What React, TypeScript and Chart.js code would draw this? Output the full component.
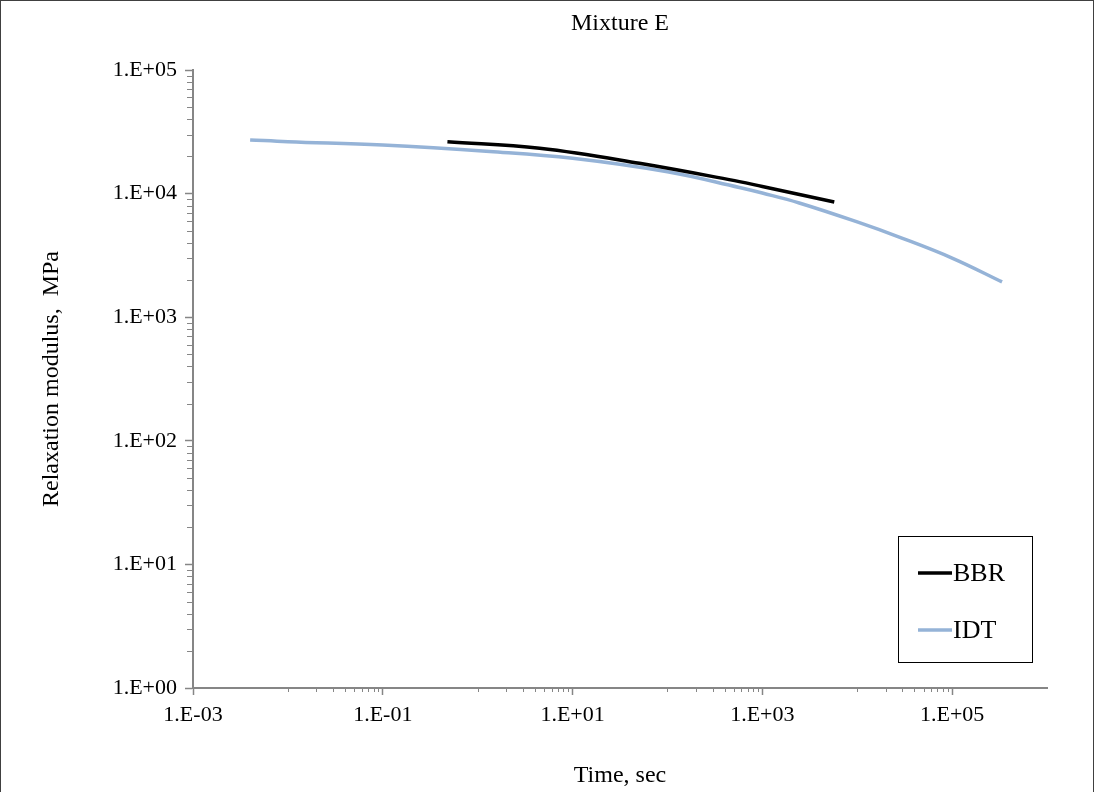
import React, { useEffect, useRef } from 'react';
import { Chart, registerables } from 'chart.js';

Chart.register(...registerables);

const chartTitle = 'Mixture E';
const xAxisTitle = 'Time, sec';
const yAxisTitle = 'Relaxation modulus,  MPa';

const xTickValues = [1e-3, 1e-1, 1e1, 1e3, 1e5];
const xTickLabels = ['1.E-03', '1.E-01', '1.E+01', '1.E+03', '1.E+05'];
const yTickValues = [1, 10, 100, 1e3, 1e4, 1e5];
const yTickLabels = ['1.E+00', '1.E+01', '1.E+02', '1.E+03', '1.E+04', '1.E+05'];

const seriesLabels = ['BBR', 'IDT'];
const seriesColors = ['#000000', '#95B3D7'];

const bbrTime = [0.48, 4.5, 50.7, 573, 1000, 5730];
const bbrModulus = [26300, 23300, 17600, 12500, 11400, 8550];

const idtTime = [0.004, 0.01, 0.1, 1.34, 10, 100, 573, 1000, 2450, 10000, 27700, 100000, 336000];
const idtModulus = [27200, 26300, 24700, 21900, 19300, 15000, 11200, 10100, 8400, 5900, 4450, 3010, 1930];

const FONT = "'Liberation Serif', 'Times New Roman', serif";
const AXIS_GRAY = '#868686';

// minor tick values (axis decoration)
const xMinorTicks: number[] = [];
for (const e of [-2, 0, 2, 4]) for (let j = 1; j <= 9; j++) xMinorTicks.push(j * Math.pow(10, e));
const yMinorTicks: number[] = [];
for (let e = 0; e <= 4; e++) for (let j = 2; j <= 9; j++) yMinorTicks.push(j * Math.pow(10, e));

const decorPlugin = {
  id: 'decor',
  afterDraw(chart: any) {
    const ctx: CanvasRenderingContext2D = chart.ctx;
    const xs = chart.scales.x;
    const ys = chart.scales.y;
    const area = chart.chartArea;
    ctx.save();
    // minor ticks
    ctx.strokeStyle = AXIS_GRAY;
    ctx.lineWidth = 1;
    ctx.beginPath();
    for (const v of xMinorTicks) {
      const px = Math.round(xs.getPixelForValue(v)) + 0.5;
      ctx.moveTo(px, area.bottom);
      ctx.lineTo(px, area.bottom + 4);
    }
    for (const v of yMinorTicks) {
      const py = Math.round(ys.getPixelForValue(v)) + 0.5;
      ctx.moveTo(area.left - 6, py);
      ctx.lineTo(area.left, py);
    }
    ctx.stroke();

    // outer border
    ctx.strokeStyle = '#404040';
    ctx.lineWidth = 1;
    ctx.strokeRect(0.5, 0.5, chart.width - 1, chart.height + 4);

    // legend box
    const bw = 134;
    const bh = 126;
    const bx = area.right - 15 - bw;
    const by = area.bottom - 26 - bh;
    ctx.fillStyle = '#ffffff';
    ctx.fillRect(bx, by, bw, bh);
    ctx.strokeStyle = '#000000';
    ctx.lineWidth = 1;
    ctx.strokeRect(Math.round(bx) + 0.5, Math.round(by) + 0.5, bw, bh);
    ctx.font = `26px ${FONT}`;
    ctx.textBaseline = 'middle';
    ctx.textAlign = 'left';
    chart.data.datasets.forEach((ds: any, i: number) => {
      const ly = by + 37 + i * 57;
      ctx.strokeStyle = ds.borderColor;
      ctx.lineWidth = 3.5;
      ctx.beginPath();
      ctx.moveTo(bx + 20, ly);
      ctx.lineTo(bx + 54, ly);
      ctx.stroke();
      ctx.fillStyle = '#000000';
      ctx.fillText(ds.label, bx + 55, ly + 1);
    });
    ctx.restore();
  },
};

export default function App() {
  const canvasRef = useRef<HTMLCanvasElement | null>(null);

  useEffect(() => {
    if (!canvasRef.current) return;
    const toPoints = (xs: number[], ys: number[]) => xs.map((x, i) => ({ x, y: ys[i] }));
    const chart = new Chart(canvasRef.current, {
      type: 'scatter',
      data: {
        datasets: [
          {
            label: seriesLabels[0],
            data: toPoints(bbrTime, bbrModulus),
            borderColor: seriesColors[0],
            backgroundColor: seriesColors[0],
            borderWidth: 3.5,
            showLine: true,
            pointRadius: 0,
            tension: 0.4,
          },
          {
            label: seriesLabels[1],
            data: toPoints(idtTime, idtModulus),
            borderColor: seriesColors[1],
            backgroundColor: seriesColors[1],
            borderWidth: 3.5,
            showLine: true,
            pointRadius: 0,
            tension: 0.4,
          },
        ],
      },
      options: {
        animation: false,
        responsive: false,
        maintainAspectRatio: false,
        layout: { padding: { left: 0, right: 47, top: 0, bottom: 0 } },
        plugins: {
          legend: { display: false },
          tooltip: { enabled: false },
          title: {
            display: true,
            fullSize: false,
            text: chartTitle,
            color: '#000000',
            font: { family: FONT, size: 24, weight: 'normal' },
            padding: { top: 9, bottom: 32.2 },
          },
        },
        scales: {
          x: {
            type: 'logarithmic',
            min: 1e-3,
            max: 1e6,
            afterBuildTicks: (scale: any) => {
              scale.ticks = xTickValues.map((v) => ({ value: v }));
            },
            afterFit: (scale: any) => {
              scale.height = 104;
            },
            ticks: {
              autoSkip: false,
              maxRotation: 0,
              minRotation: 0,
              padding: 7,
              color: '#000000',
              font: { family: FONT, size: 22 },
              callback: (_v: any, i: number) => xTickLabels[i],
            },
            grid: {
              display: true,
              drawOnChartArea: false,
              drawTicks: true,
              tickLength: 7,
              tickColor: AXIS_GRAY,
              tickWidth: 1.5,
            },
            border: { display: true, color: AXIS_GRAY, width: 2 },
            title: {
              display: true,
              text: xAxisTitle,
              color: '#000000',
              font: { family: FONT, size: 24 },
              padding: { top: 0, bottom: 2 },
            },
          },
          y: {
            type: 'logarithmic',
            min: 1,
            max: 1e5,
            afterBuildTicks: (scale: any) => {
              scale.ticks = yTickValues.map((v) => ({ value: v }));
            },
            afterFit: (scale: any) => {
              scale.width = 193;
            },
            ticks: {
              autoSkip: false,
              padding: 8,
              color: '#000000',
              font: { family: FONT, size: 22 },
              callback: (_v: any, i: number) => yTickLabels[i],
            },
            grid: {
              display: true,
              drawOnChartArea: false,
              drawTicks: true,
              tickLength: 8,
              tickColor: AXIS_GRAY,
              tickWidth: 1.5,
            },
            border: { display: true, color: AXIS_GRAY, width: 2 },
            title: {
              display: true,
              text: yAxisTitle,
              color: '#000000',
              font: { family: FONT, size: 24 },
              padding: { top: 37, bottom: 0 },
            },
          },
        },
      },
      plugins: [decorPlugin],
    } as any);
    return () => chart.destroy();
  }, []);

  return (
    <div style={{ position: 'fixed', left: 0, top: 0, width: 1094, height: 792, background: '#ffffff' }}>
      <canvas ref={canvasRef} width={1094} height={792} />
    </div>
  );
}
